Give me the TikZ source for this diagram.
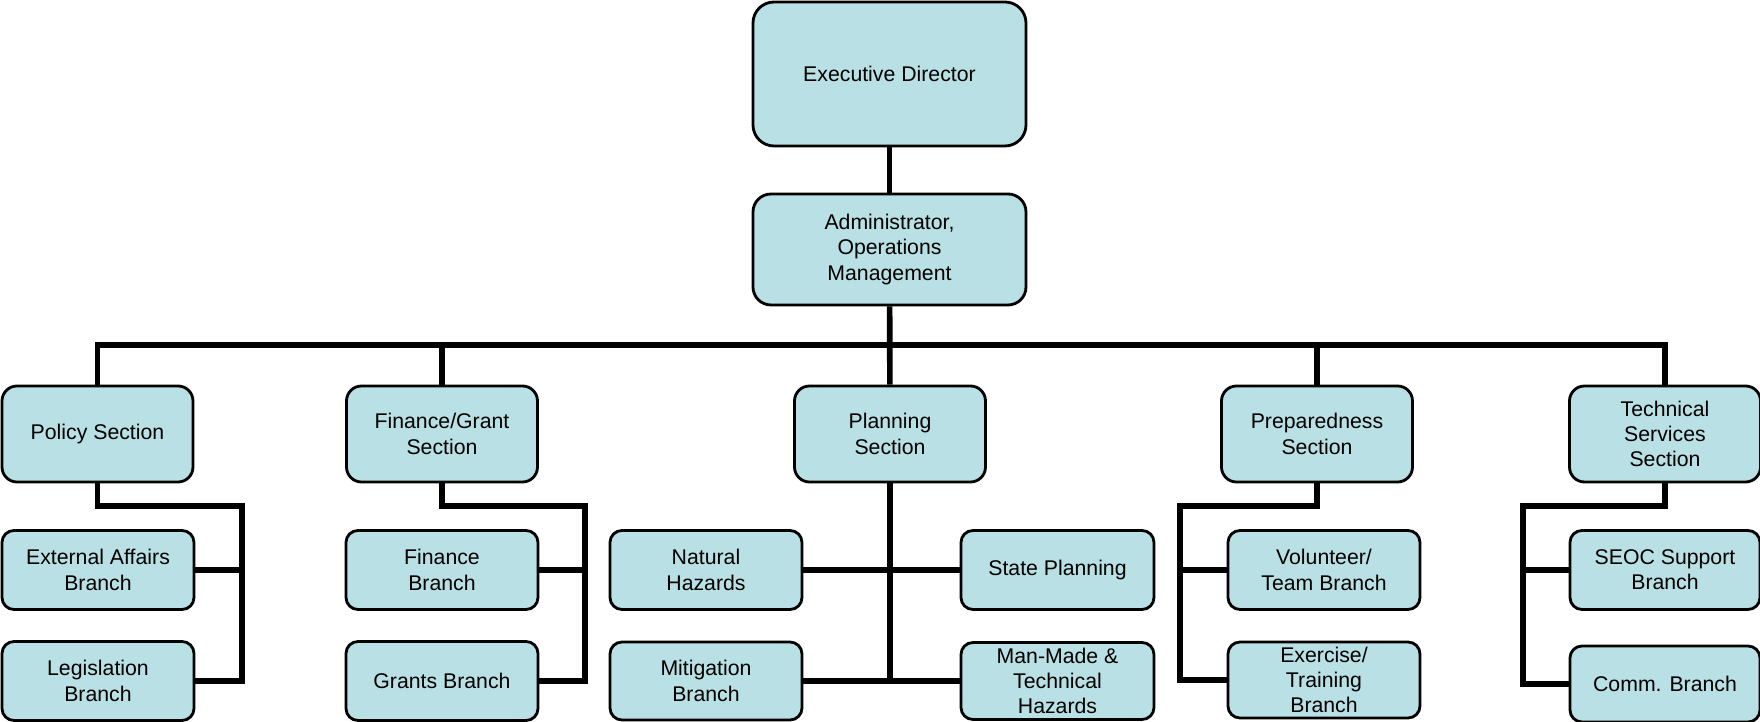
\documentclass[tikz,border=0pt]{standalone}
\usepackage{tikz}
\usepackage{xcolor}
\usepackage{fontspec}

\newfontfamily\orgfont{Liberation Sans}
\definecolor{boxfill}{RGB}{185,224,228}

\tikzset{
    unit/.style={draw, line width=0.8pt, fill=boxfill, rounded corners=0.15cm, align=center,
        inner sep=0pt, font=\orgfont\fontsize{6.05}{7.2}\selectfont},
    sect/.style={unit, minimum width=1.91cm, minimum height=0.96cm},
    branch/.style={unit, rounded corners=0.12cm, minimum width=1.92cm, minimum height=0.79cm},
    conn/.style={line width=1.6pt, black}
}

\begin{document}
\begin{tikzpicture}

    \useasboundingbox (0, 0) rectangle (17.6, 7.22);

    % Top of the chart

    \node[unit, rounded corners=0.21cm, minimum width=2.73cm, minimum height=1.44cm] (exec) at (8.895, 6.48) {Executive Director};

    \node[unit, rounded corners=0.18cm, minimum width=2.73cm, minimum height=1.11cm] (admin) at (8.895, 4.725) {Administrator,\\Operations\\Management};

    \coordinate (bus) at (8.9, 3.77);

    % Sections

    \node[sect] (policy) at (0.975, 2.88) {Policy Section};

    \node[sect] (fingrant) at (4.42, 2.88) {Finance/Grant\\Section};

    \node[sect] (planning) at (8.9, 2.88) {Planning\\Section};

    \node[sect] (prep) at (13.17, 2.88) {Preparedness\\Section};

    \node[sect] (tech) at (16.65, 2.88) {Technical\\Services\\Section};

    % Branches

    \node[branch] (extaff) at (0.98, 1.52) {External Affairs\\Branch};

    \node[branch] (legis) at (0.98, 0.41) {Legislation\\Branch};

    \node[branch] (finance) at (4.42, 1.52) {Finance\\Branch};

    \node[branch] (grants) at (4.42, 0.41) {Grants Branch};

    \node[branch] (natural) at (7.06, 1.52) {Natural\\Hazards};

    \node[branch, minimum height=0.78cm] (mitig) at (7.06, 0.41) {Mitigation\\Branch};

    \node[branch, minimum width=1.93cm] (state) at (10.575, 1.52) {State Planning};

    \node[branch, minimum width=1.93cm, minimum height=0.77cm] (manmade) at (10.575, 0.41) {Man-Made \&\\Technical\\Hazards};

    \node[branch] (volunteer) at (13.24, 1.52) {Volunteer/\\Team Branch};

    \node[branch, minimum height=0.76cm] (exercise) at (13.24, 0.42) {Exercise/\\Training\\Branch};

    \node[branch, minimum width=1.90cm] (seoc) at (16.65, 1.52) {SEOC Support\\Branch};

    \node[branch, minimum width=1.90cm, minimum height=0.76cm] (comm) at (16.65, 0.38) {Comm. Branch};

    \coordinate (polbr) at (2.42, 2.16);
    \coordinate (finbr) at (5.85, 2.16);
    \coordinate (prepbr) at (11.80, 2.16);
    \coordinate (techbr) at (15.23, 2.16);

    % Connectors

    \draw[conn] (exec) -- (admin);
    \draw[conn] (admin) -- (planning);
    \draw[conn] (policy.north) |- (bus) -| (tech.north);
    \draw[conn] (fingrant.north) -- (fingrant.north |- bus);
    \draw[conn] (prep.north) -- (prep.north |- bus);

    \draw[conn] (policy.south) |- (polbr) |- (legis.east);
    \draw[conn] (extaff.east) -- (extaff.east -| polbr);

    \draw[conn] (fingrant.south) |- (finbr) |- (grants.east);
    \draw[conn] (finance.east) -- (finance.east -| finbr);

    \draw[conn] (planning.south) -- (planning.south |- mitig.east);
    \draw[conn] (natural.east) -- (state.west);
    \draw[conn] (mitig.east) -- (manmade.west);

    \draw[conn] (prep.south) |- (prepbr) |- (exercise.west);
    \draw[conn] (volunteer.west) -- (volunteer.west -| prepbr);

    \draw[conn] (tech.south) |- (techbr) |- (comm.west);
    \draw[conn] (seoc.west) -- (seoc.west -| techbr);

\end{tikzpicture}
\end{document}
